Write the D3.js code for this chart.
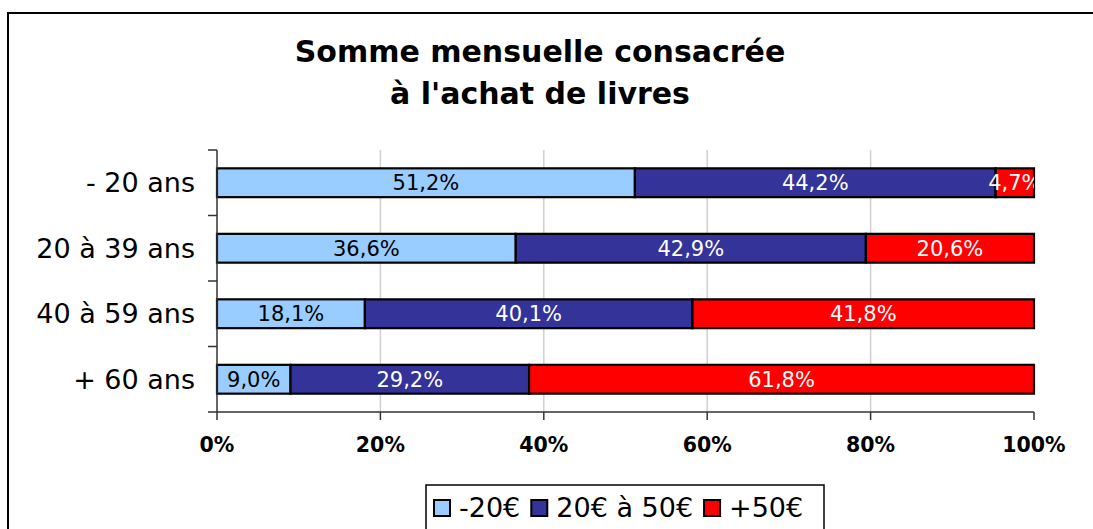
<!DOCTYPE html>
<html><head><meta charset="utf-8">
<script src="https://cdn.jsdelivr.net/npm/d3@7"></script>
<style>body{margin:0;background:#fff;overflow:hidden}svg{display:block;font-family:"DejaVu Sans",Verdana,sans-serif}</style>
</head><body><svg id="c" width="1093" height="529"></svg>
<script>
const categories = ["- 20 ans", "20 à 39 ans", "40 à 59 ans", "+ 60 ans"];
const seriesNames = ["-20€", "20€ à 50€", "+50€"];
const seriesColors = ["#99CCFF", "#333399", "#FF0000"];
const labelColors = ["#000", "#fff", "#fff"];
const lowValues = [51.2, 36.6, 18.1, 9.0];
const midValues = [44.2, 42.9, 40.1, 29.2];
const highValues = [4.7, 20.6, 41.8, 61.8];
const xTicks = [0, 0.2, 0.4, 0.6, 0.8, 1];
const titleLines = ["Somme mensuelle consacrée", "à l'achat de livres"];

const rows = categories.map((c, i) => ({cat: c, s0: lowValues[i], s1: midValues[i], s2: highValues[i]}));
const keys = ["s0", "s1", "s2"];
const stacked = d3.stack().keys(keys).offset(d3.stackOffsetExpand)(rows);

const svg = d3.select("#c");
// outer frame (left and top edges visible)
svg.append("path").attr("d", "M8,540V13H1100")
  .attr("fill", "none").attr("stroke", "#000").attr("stroke-width", 2);

// title
svg.append("text").attr("x", 540).attr("y", 62).attr("text-anchor", "middle")
  .attr("font-size", 30).attr("font-weight", "bold").text(titleLines[0]);
svg.append("text").attr("x", 540).attr("y", 104).attr("text-anchor", "middle")
  .attr("font-size", 30).attr("font-weight", "bold").text(titleLines[1]);

const L = 217, R = 1034, T = 150, B = 412;
const x = d3.scaleLinear().domain([0, 1]).range([L, R]);
const y = d3.scaleBand().domain(categories).range([T, B]).paddingInner(0.56).paddingOuter(0.28);
const yb = d3.scaleBand().domain(categories).range([T, B]);

// gridlines
svg.append("g").selectAll("line").data(xTicks.filter(t => t > 0 && t < 1)).join("line")
  .attr("x1", d => x(d)).attr("x2", d => x(d)).attr("y1", T).attr("y2", B)
  .attr("stroke", "#d0d0d0").attr("stroke-width", 1.5);

// bars
svg.append("clipPath").attr("id", "pc").append("rect")
  .attr("x", L).attr("y", T).attr("width", R - L).attr("height", B - T);
stacked.forEach((layer, si) => {
  const g = svg.append("g");
  g.selectAll("rect").data(layer).join("rect")
    .attr("x", d => x(d[0])).attr("width", d => x(d[1]) - x(d[0]))
    .attr("y", d => y(d.data.cat)).attr("height", y.bandwidth())
    .attr("fill", seriesColors[si]).attr("stroke", "#000").attr("stroke-width", 2.2);
});
stacked.forEach((layer, si) => {
  const g = svg.append("g").attr("clip-path", "url(#pc)");
  g.selectAll("text").data(layer).join("text")
    .attr("x", d => (x(d[0]) + x(d[1])) / 2)
    .attr("y", d => y(d.data.cat) + y.bandwidth() / 2)
    .attr("dy", "0.36em").attr("text-anchor", "middle").attr("font-size", 21)
    .attr("fill", labelColors[si])
    .text(d => d3.format(".1f")(d.data[keys[si]]).replace(".", ",") + "%");
});

// y axis
const ya = svg.append("g");
ya.append("line").attr("x1", L).attr("x2", L).attr("y1", T).attr("y2", B)
  .attr("stroke", "#333").attr("stroke-width", 1.5);
const bounds = categories.map(c => yb(c)).concat([B]);
ya.selectAll("line.t").data(bounds).join("line").attr("class", "t")
  .attr("x1", L - 9).attr("x2", L).attr("y1", d => d).attr("y2", d => d)
  .attr("stroke", "#333").attr("stroke-width", 1.5);
ya.selectAll("text").data(categories).join("text")
  .attr("x", 195).attr("y", d => yb(d) + yb.bandwidth() / 2).attr("dy", "0.35em")
  .attr("text-anchor", "end").attr("font-size", 27).text(d => d);

// x axis
const xa = svg.append("g");
xa.append("line").attr("x1", L).attr("x2", R).attr("y1", B).attr("y2", B)
  .attr("stroke", "#333").attr("stroke-width", 1.5);
xa.selectAll("line.t").data(xTicks).join("line").attr("class", "t")
  .attr("x1", d => x(d)).attr("x2", d => x(d)).attr("y1", B).attr("y2", B + 8)
  .attr("stroke", "#333").attr("stroke-width", 1.5);
xa.selectAll("text").data(xTicks).join("text")
  .attr("x", d => x(d)).attr("y", 452).attr("text-anchor", "middle")
  .attr("font-size", 20.5).attr("font-weight", "bold").text(d => d3.format(".0%")(d));

// legend
const lg = svg.append("g");
lg.append("rect").attr("x", 426).attr("y", 485).attr("width", 398).attr("height", 60)
  .attr("fill", "#fff").attr("stroke", "#000").attr("stroke-width", 1.5);
let cx = 434;
seriesNames.forEach((n, i) => {
  lg.append("rect").attr("x", cx).attr("y", 500).attr("width", 16).attr("height", 16)
    .attr("fill", seriesColors[i]).attr("stroke", "#000").attr("stroke-width", 2);
  const t = lg.append("text").attr("x", cx + 25).attr("y", 517).attr("font-size", 27).text(n);
  cx = cx + 25 + t.node().getComputedTextLength() + 11;
});
</script></body></html>
